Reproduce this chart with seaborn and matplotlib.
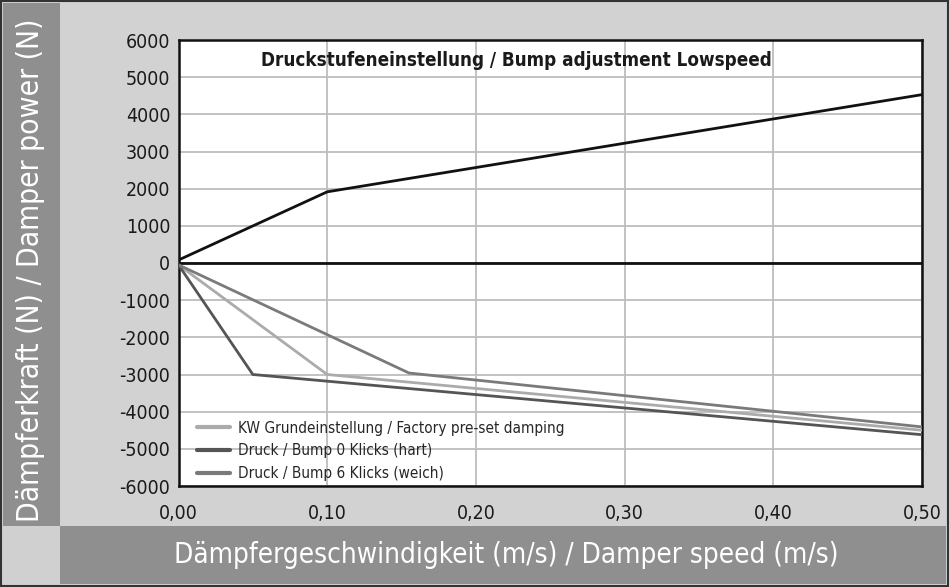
import numpy as np
import pandas as pd
import matplotlib
matplotlib.use('Agg')
import matplotlib.pyplot as plt
from matplotlib.patches import Rectangle
from matplotlib.ticker import FuncFormatter
import seaborn as sns

# Data
rebound_speed = [0.0, 0.1, 0.5]
rebound_force = [80, 1915, 4530]

factory_speed = [0.0, 0.1, 0.5]
factory_force = [-50, -3000, -4500]

hard_speed = [0.0, 0.05, 0.5]
hard_force = [-50, -3000, -4620]

soft_speed = [0.0, 0.155, 0.5]
soft_force = [-50, -2960, -4410]

series_names = ['KW Grundeinstellung / Factory pre-set damping',
                'Druck / Bump 0 Klicks (hart)',
                'Druck / Bump 6 Klicks (weich)']
series_colors = ['#ababab', '#555555', '#7a7a7a']

y_ticks = list(range(-6000, 6001, 1000))
x_ticks = [0.0, 0.1, 0.2, 0.3, 0.4, 0.5]

title = 'Druckstufeneinstellung / Bump adjustment Lowspeed'
y_label = 'Dämpferkraft (N) / Damper power (N)'
x_label = 'Dämpfergeschwindigkeit (m/s) / Damper speed (m/s)'

sns.set_style('white')
plt.rcParams['font.family'] = ['DejaVu Sans']
plt.rcParams['font.stretch'] = 'condensed'

W, H = 949, 587
fig = plt.figure(figsize=(W / 100, H / 100), dpi=100)
fig.patch.set_facecolor('#d2d2d2')


def px_rect(x0, y0, x1, y1, color, **kw):
    fig.add_artist(Rectangle((x0 / W, 1 - y1 / H), (x1 - x0) / W, (y1 - y0) / H,
                             transform=fig.transFigure, facecolor=color,
                             edgecolor='none', zorder=-10, **kw))


# frame pieces
px_rect(3, 3, 60, 526, '#8f8f8f')
px_rect(60, 526, 946, 584, '#8f8f8f')
px_rect(3, 526, 60, 584, '#d0d0d0')
fig.add_artist(Rectangle((0.001, 0.001), 0.998, 0.998, transform=fig.transFigure,
                         facecolor='none', edgecolor='#333333', linewidth=1.5))

ax = fig.add_axes([178.5 / W, 1 - 486 / H, (922 - 178.5) / W, (486 - 40) / H])
ax.set_facecolor('white')

df = pd.concat([
    pd.DataFrame({'speed': factory_speed, 'force': factory_force, 'series': series_names[0]}),
    pd.DataFrame({'speed': hard_speed, 'force': hard_force, 'series': series_names[1]}),
    pd.DataFrame({'speed': soft_speed, 'force': soft_force, 'series': series_names[2]}),
])

ax.axhline(0, color='#111111', linewidth=2, zorder=2)
sns.lineplot(x=rebound_speed, y=rebound_force, ax=ax, color='#111111',
             linewidth=2, legend=False, zorder=3)
sns.lineplot(data=df, x='speed', y='force', hue='series', hue_order=series_names,
             palette=dict(zip(series_names, series_colors)), linewidth=2,
             sort=False, ax=ax, zorder=3)

ax.set_xlim(0, 0.5)
ax.set_ylim(-6000, 6000)
ax.set_xticks(x_ticks)
ax.set_yticks(y_ticks)
ax.xaxis.set_major_formatter(FuncFormatter(lambda v, p: f'{v:.2f}'.replace('.', ',')))
ax.yaxis.set_major_formatter(FuncFormatter(lambda v, p: f'{int(v)}'))
ax.grid(True, color='#bdbdbd', linewidth=1.3)
ax.tick_params(axis='both', length=0, labelsize=14, colors='#1a1a1a')
ax.tick_params(axis='x', pad=13)
ax.tick_params(axis='y', pad=6)
for s in ax.spines.values():
    s.set_color('#111111')
    s.set_linewidth(1.8)
ax.set_xlabel('')
ax.set_ylabel('')

ax.text(0.454, 0.955, title, transform=ax.transAxes, ha='center', va='center',
        fontsize=13.5, fontweight='bold', color='#1a1a1a')

leg = ax.legend(loc='lower left', bbox_to_anchor=(12 / 743.5, -1 / 446), frameon=False,
                fontsize=11, handlelength=2.2, handletextpad=0.5,
                labelspacing=0.5, borderaxespad=0.0)
for line in leg.get_lines():
    line.set_linewidth(3)

fig.text(31 / W, 1 - 270 / H, y_label, rotation=90, ha='center', va='center',
         color='white', fontsize=21.5)
fig.text(506 / W, 1 - 555 / H, x_label, ha='center', va='center',
         color='white', fontsize=20)

fig.savefig('out.png', dpi=100)
